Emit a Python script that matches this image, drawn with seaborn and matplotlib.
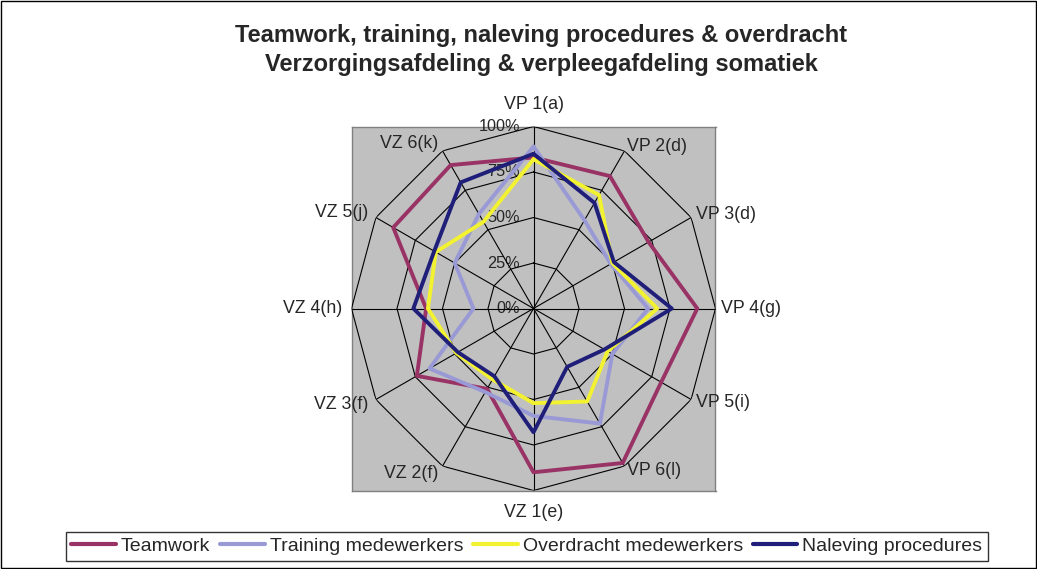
import numpy as np
import pandas as pd
import matplotlib.pyplot as plt
import seaborn as sns
from matplotlib.lines import Line2D
from matplotlib.patches import Rectangle

# categories (clockwise from the top)
categories = ['VP 1(a)', 'VP 2(d)', 'VP 3(d)', 'VP 4(g)', 'VP 5(i)', 'VP 6(l)',
              'VZ 1(e)', 'VZ 2(f)', 'VZ 3(f)', 'VZ 4(h)', 'VZ 5(j)', 'VZ 6(k)']

teamwork = [0.83, 0.84, 0.73, 0.90, 0.81, 0.98, 0.90, 0.51, 0.74, 0.59, 0.89, 0.91]
training = [0.89, 0.56, 0.49, 0.63, 0.50, 0.73, 0.59, 0.53, 0.66, 0.33, 0.50, 0.60]
overdracht = [0.82, 0.72, 0.50, 0.68, 0.47, 0.59, 0.52, 0.45, 0.49, 0.58, 0.62, 0.55]
naleving = [0.85, 0.67, 0.51, 0.76, 0.45, 0.37, 0.68, 0.43, 0.48, 0.66, 0.63, 0.80]

series_names = ['Teamwork', 'Training medewerkers', 'Overdracht medewerkers', 'Naleving procedures']
series_values = [teamwork, training, overdracht, naleving]
colors = ['#993366', '#9999D6', '#F2F230', '#1F1F7A']

radial_levels = [0.0, 0.25, 0.5, 0.75, 1.0]
radial_labels = ['0%', '25%', '50%', '75%', '100%']

# build long table, closing each polygon
n = len(categories)
angles = np.linspace(0, 2 * np.pi, n, endpoint=False)
rows = []
for name, vals in zip(series_names, series_values):
    for a, v in zip(list(angles) + [2 * np.pi], list(vals) + [vals[0]]):
        rows.append({'series': name, 'theta': a, 'value': v})
df = pd.DataFrame(rows)

sns.set_style('white')
plt.rcParams['font.family'] = ['Liberation Sans', 'DejaVu Sans']

fig = plt.figure(figsize=(10.37, 5.69), dpi=100)
rect = [351.5 / 1037, (569 - 490.5) / 569, 364 / 1037, 364 / 569]

# grey square plot area behind the radar
bg = fig.add_axes(rect)
bg.set_facecolor('#C0C0C0')
bg.set_xlim(-1, 1)
bg.set_ylim(-1, 1)
bg.set_xticks([])
bg.set_yticks([])
for s in bg.spines.values():
    s.set_color('#808080')
    s.set_linewidth(1)

ax = fig.add_axes(rect, projection='polar')
ax.patch.set_alpha(0)
ax.set_theta_zero_location('N')
ax.set_theta_direction(-1)
ax.set_ylim(0, 1)
ax.grid(False)
ax.set_xticks([])
ax.set_yticks([])
ax.spines['polar'].set_visible(False)

# polygon grid and spokes
closed = np.append(angles, 2 * np.pi)
for lvl in radial_levels[1:]:
    ax.plot(closed, [lvl] * len(closed), color='black', lw=0.8, zorder=1)
for a in angles:
    ax.plot([a, a], [0, 1], color='black', lw=0.8, zorder=1)

sns.lineplot(data=df, x='theta', y='value', hue='series', hue_order=series_names,
             palette=colors, sort=False, estimator=None, linewidth=2.8,
             legend=False, ax=ax, zorder=3)
ax.set_xlabel('')
ax.set_ylabel('')
ax.set_ylim(0, 1)

# category labels
for a, lab in zip(angles, categories):
    deg = np.degrees(a)
    if np.isclose(deg, 0) or np.isclose(deg, 180):
        ax.text(a, 1.12, lab, ha='center', va='center', fontsize=12.8)
    elif deg < 180:
        ax.text(a, 1.03, lab, ha='left', va='center', fontsize=12.8)
    else:
        ax.text(a, 1.05, lab, ha='right', va='center', fontsize=12.8)

# radial labels
for lvl, lab in zip(radial_levels, radial_labels):
    bg.text(-0.075, lvl, lab, ha='right', va='center', fontsize=11.7, zorder=5)

fig.text(0.522, 0.912, 'Teamwork, training, naleving procedures & overdracht\n'
         'Verzorgingsafdeling & verpleegafdeling somatiek',
         ha='center', va='center', fontsize=17, fontweight='bold', linespacing=1.3)

handles = [Line2D([0], [0], color=c, lw=3) for c in colors]
leg = fig.legend(handles, series_names, loc='center', bbox_to_anchor=(0.508, 0.04),
                 ncol=4, frameon=True, fancybox=False, fontsize=14, handlelength=2.3,
                 handletextpad=0.25, columnspacing=0.5, borderpad=0.3, borderaxespad=0,
                 edgecolor='black')
leg.get_frame().set_linewidth(1)

fig.patches.append(Rectangle((0.001, 0.001), 0.998, 0.998, transform=fig.transFigure,
                             fill=False, edgecolor='black', lw=1))

fig.savefig('out.png', dpi=100)
